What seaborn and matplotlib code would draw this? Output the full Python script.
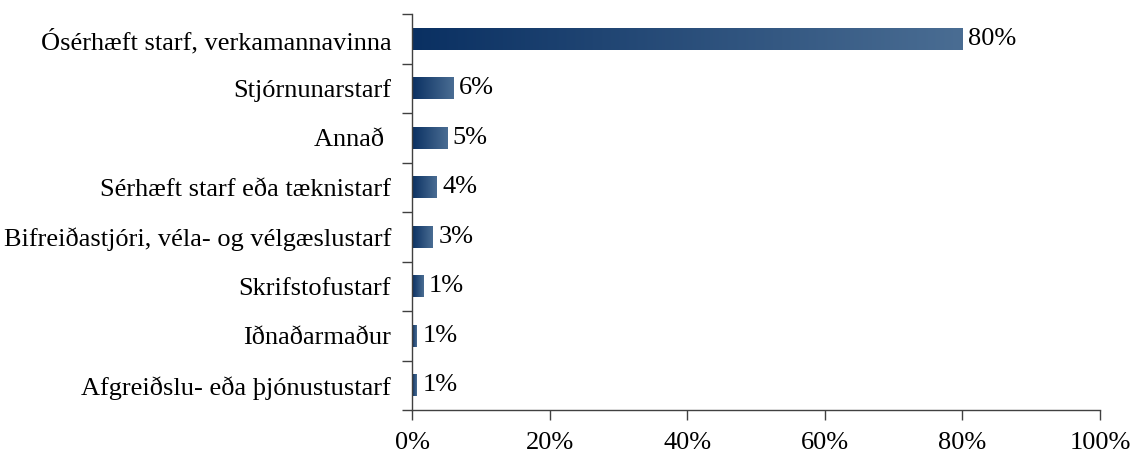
import numpy as np
import pandas as pd
import matplotlib
matplotlib.use("Agg")
import matplotlib.pyplot as plt
import seaborn as sns
from matplotlib.colors import LinearSegmentedColormap
from matplotlib.ticker import FixedLocator, PercentFormatter

categories = [
    "Ósérhæft starf, verkamannavinna",
    "Stjórnunarstarf",
    "Annað ",
    "Sérhæft starf eða tæknistarf",
    "Bifreiðastjóri, véla- og vélgæslustarf",
    "Skrifstofustarf",
    "Iðnaðarmaður",
    "Afgreiðslu- eða þjónustustarf",
]
values = [80.0, 6.0, 5.1, 3.6, 3.05, 1.6, 0.7, 0.7]
labels = ["80%", "6%", "5%", "4%", "3%", "1%", "1%", "1%"]

df = pd.DataFrame({"cat": categories, "val": values})

sns.set_theme(style="white")
plt.rcParams["font.family"] = ["Liberation Serif", "DejaVu Serif"]

FS = 19

fig = plt.figure(figsize=(11.33, 4.62), dpi=100)
ax = fig.add_axes([412 / 1133, 1 - 410 / 462, 688 / 1133, 396 / 462])

sns.barplot(data=df, x="val", y="cat", orient="h", width=0.45, color="#1f3f6b",
            ax=ax, saturation=1)

cmap = LinearSegmentedColormap.from_list("g", ["#0a3062", "#4a6d93"])
grad = np.linspace(0, 1, 256).reshape(1, -1)
for p in ax.patches:
    x0, y0 = p.get_x(), p.get_y()
    w, h = p.get_width(), p.get_height()
    im = ax.imshow(grad, cmap=cmap, aspect="auto",
                   extent=(x0, x0 + w, y0 + h, y0), zorder=2,
                   interpolation="bilinear")
    im.set_clip_path(p)
    p.set_facecolor("none")
    p.set_edgecolor("none")

for i, (v, lab) in enumerate(zip(values, labels)):
    ax.text(v + 0.8, i, lab, va="center", ha="left", fontsize=FS, color="black")

ax.set_xlim(0, 100)
ax.set_ylim(len(categories) - 0.5, -0.5)
ax.set_xticks([0, 20, 40, 60, 80, 100])
ax.xaxis.set_major_formatter(PercentFormatter(decimals=0))
ax.set_xlabel("")
ax.set_ylabel("")

ax.yaxis.set_minor_locator(FixedLocator(np.arange(-0.5, len(categories), 1.0)))
ax.tick_params(axis="y", which="major", length=0, pad=15, labelsize=FS, left=True,
               labelcolor="black")
ax.tick_params(axis="y", which="minor", length=7, width=1, color="#404040", left=True)
ax.tick_params(axis="x", which="major", length=7, width=1, color="#404040",
               bottom=True, direction="out", pad=9, labelsize=FS, labelcolor="black")

for s in ["top", "right"]:
    ax.spines[s].set_visible(False)
for s in ["left", "bottom"]:
    ax.spines[s].set_visible(True)
    ax.spines[s].set_color("#404040")
    ax.spines[s].set_linewidth(1)
ax.grid(False)

fig.savefig("out.png", dpi=100)
